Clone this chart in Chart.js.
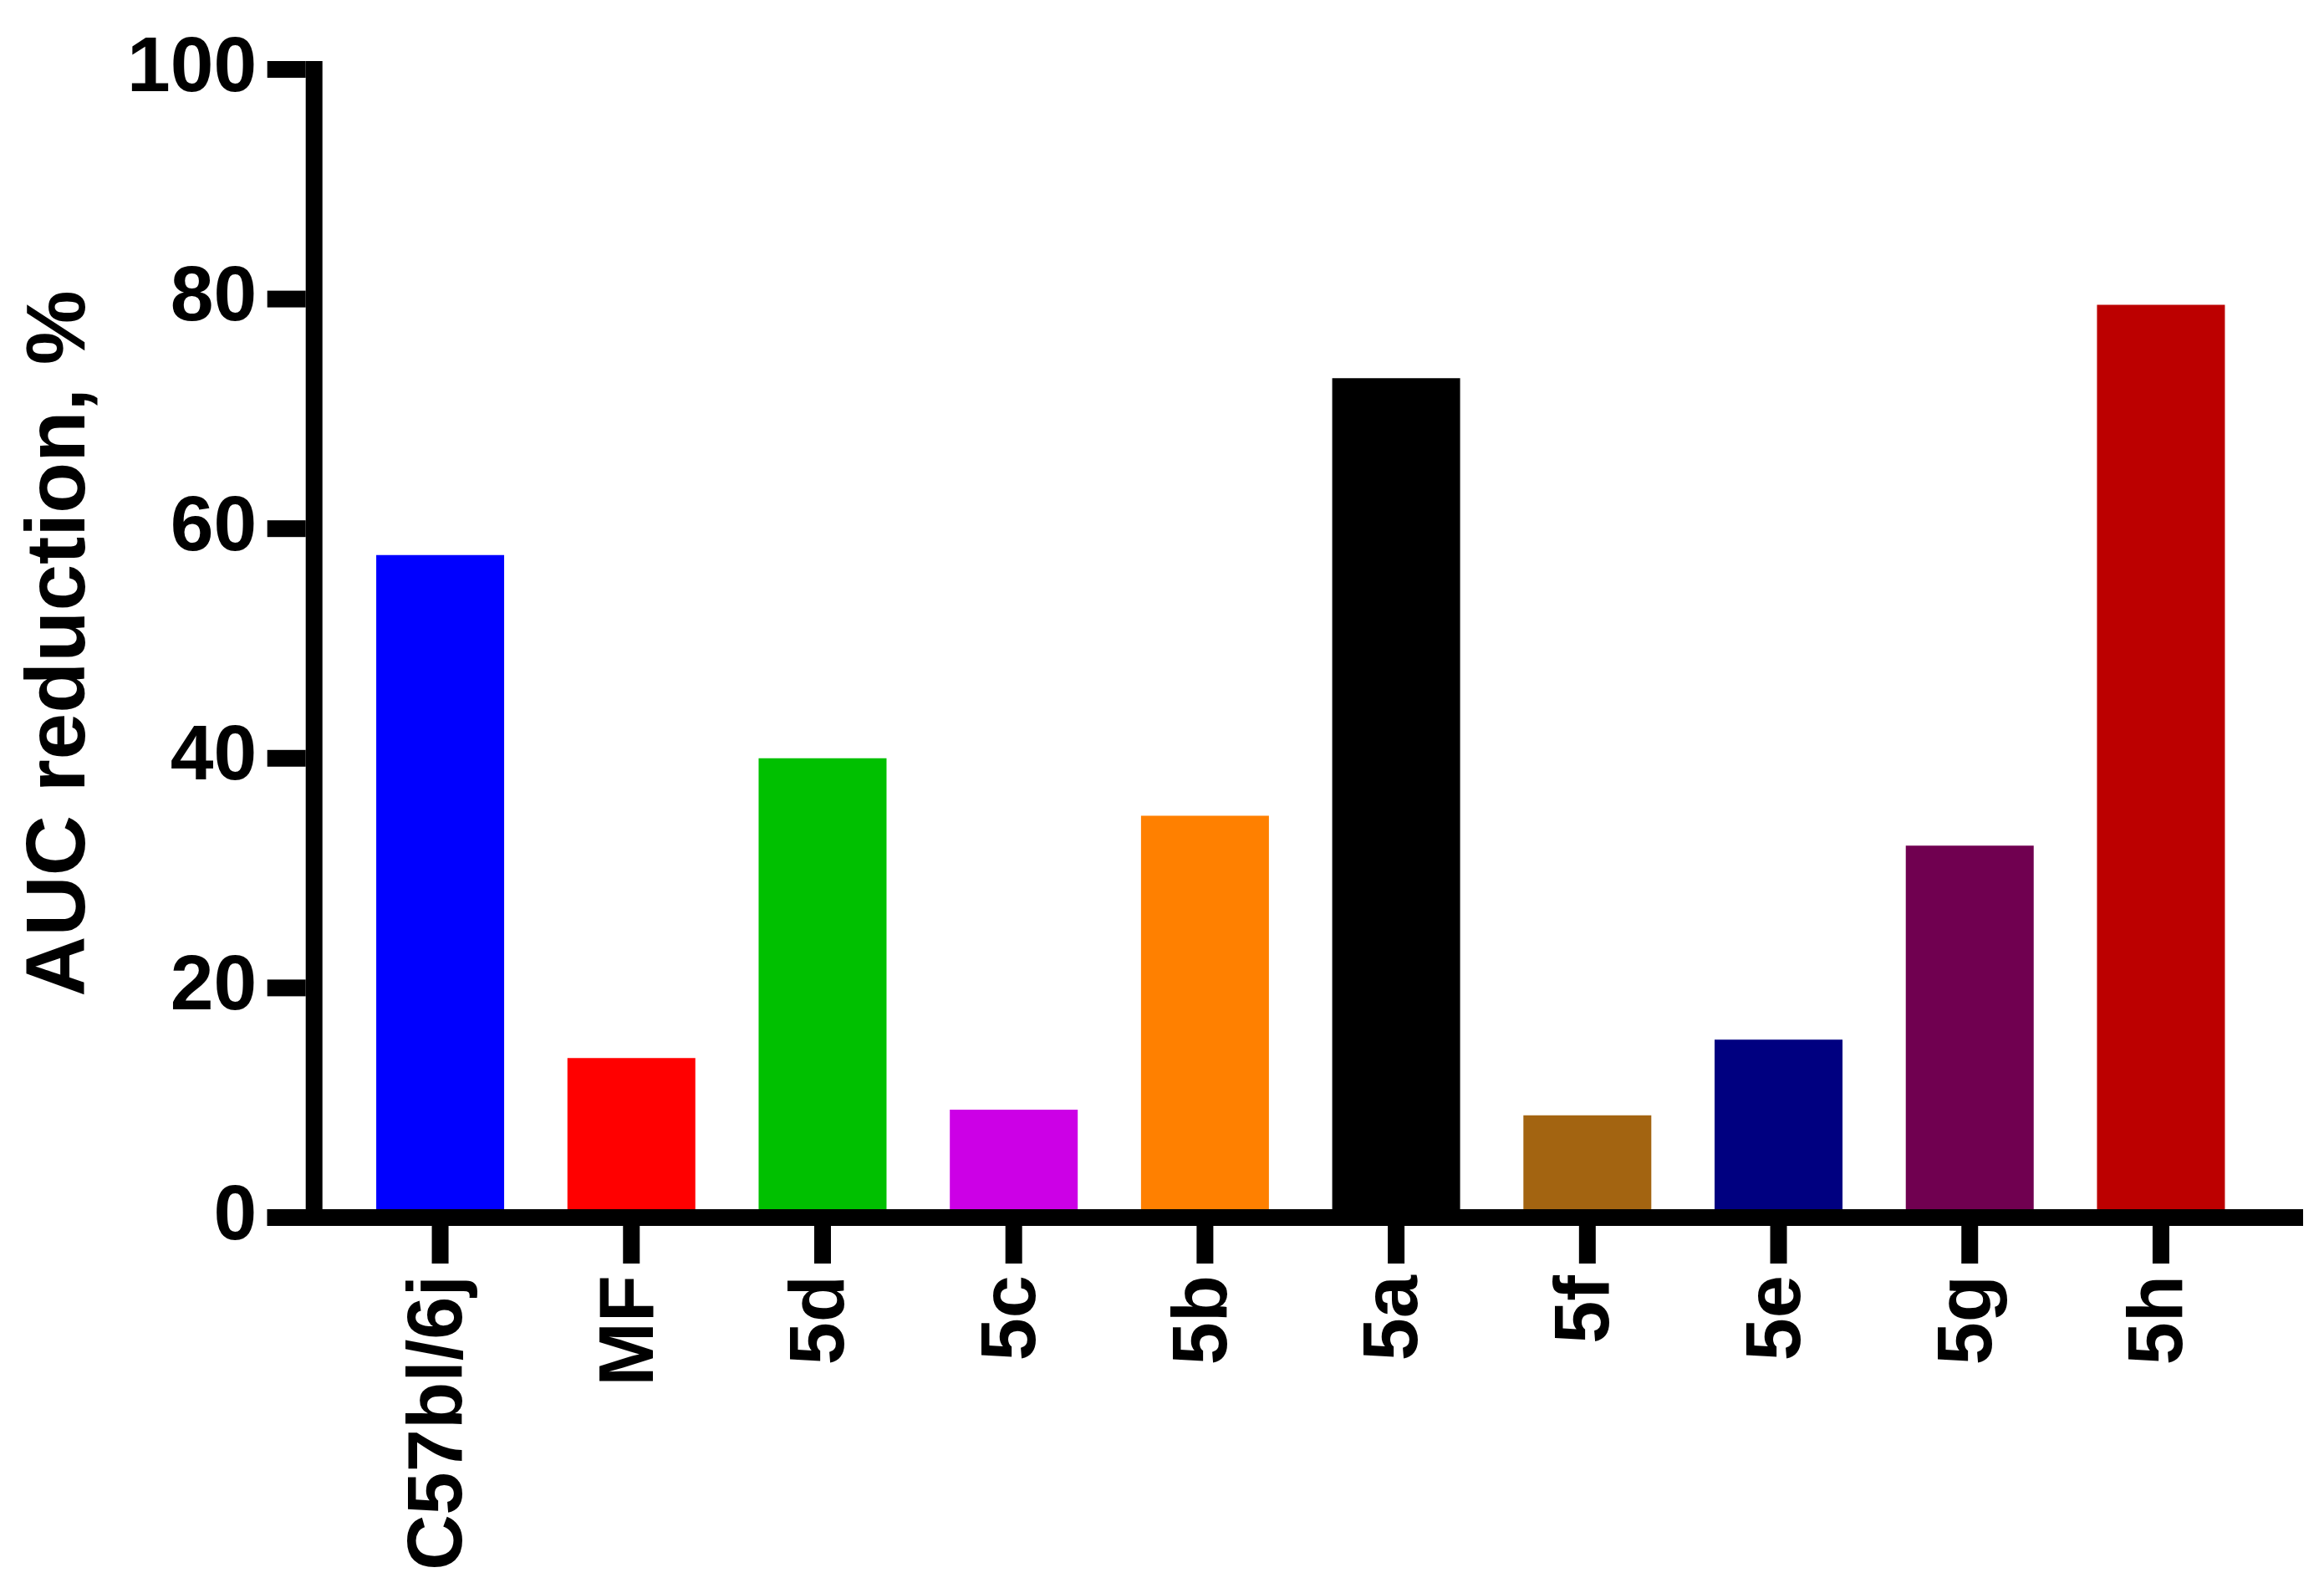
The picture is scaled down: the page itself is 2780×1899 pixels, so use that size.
<!DOCTYPE html>
<html>
<head>
<meta charset="utf-8">
<script src="https://cdn.jsdelivr.net/npm/chart.js@4.4.1/dist/chart.umd.min.js"></script>
<style>
  html, body { margin: 0; padding: 0; background: #fff; }
  #wrap { width: 2780px; height: 1899px; }
</style>
</head>
<body>
<div id="wrap"><canvas id="c" width="2780" height="1899"></canvas></div>
<script>
const categories = ['C57bl/6j', 'MF', '5d', '5c', '5b', '5a', '5f', '5e', '5g', '5h'];
const aucReduction = [57.7, 13.9, 40.0, 9.4, 35.0, 73.1, 8.9, 15.5, 32.4, 79.5];
const barColors = ['#0000FF', '#FF0000', '#00C000', '#CC00E6', '#FF8000', '#000000', '#A36411', '#000080', '#700050', '#BC0000'];
const yTicks = [0, 20, 40, 60, 80, 100];

const FONT = "'Liberation Sans', Arial, sans-serif";
const LW = 20;

// Prism-style axes: thick lines, outward ticks, x axis running past the y axis
const prismAxes = {
  id: 'prismAxes',
  afterDatasetsDraw(chart) {
    const { ctx, chartArea, scales: { x, y } } = chart;
    const zero = y.getPixelForValue(0);
    const top = y.getPixelForValue(100);
    const yAxisLeft = chartArea.left - 46.5;
    const tickLeft = yAxisLeft - 46;
    ctx.save();
    ctx.fillStyle = '#000';
    // y axis
    ctx.fillRect(yAxisLeft, top - LW / 2, LW, zero - top + LW);
    // x axis
    ctx.fillRect(tickLeft, zero - LW / 2, 2755 - tickLeft, LW);
    // y ticks
    yTicks.forEach(v => {
      const py = y.getPixelForValue(v);
      ctx.fillRect(tickLeft, py - LW / 2, yAxisLeft - tickLeft, LW);
    });
    // x ticks
    categories.forEach((c, i) => {
      const px = x.getPixelForValue(i);
      ctx.fillRect(px - LW / 2, zero + LW / 2, LW, 45);
    });
    ctx.restore();
  }
};

new Chart(document.getElementById('c'), {
  type: 'bar',
  data: {
    labels: categories,
    datasets: [{
      data: aucReduction,
      backgroundColor: barColors,
      borderWidth: 0,
      categoryPercentage: 1,
      barPercentage: 0.669
    }]
  },
  options: {
    responsive: false,
    devicePixelRatio: 1,
    animation: false,
    events: [],
    layout: { padding: { top: 83, right: 80.7, bottom: 0, left: 0 } },
    plugins: { legend: { display: false }, tooltip: { enabled: false } },
    scales: {
      x: {
        afterFit: s => { s.height = 443; s.paddingLeft = 0; s.paddingRight = 0; },
        grid: { display: false, drawTicks: false },
        border: { display: false },
        ticks: {
          autoSkip: false, minRotation: 90, maxRotation: 90, padding: 69,
          color: '#000', font: { family: FONT, size: 92, weight: 'bold' }
        }
      },
      y: {
        min: 0, max: 100,
        afterFit: s => { s.width = 412.2; s.paddingTop = 0; s.paddingBottom = 0; },
        afterBuildTicks: s => { s.ticks = yTicks.map(v => ({ value: v })); },
        grid: { display: false, drawTicks: false },
        border: { display: false },
        ticks: {
          padding: 105, color: '#000',
          font: { family: FONT, size: 93, weight: 'bold' }
        },
        title: {
          display: true, text: 'AUC reduction, %', color: '#000',
          padding: { top: 13, bottom: 0 },
          font: { family: FONT, size: 100, weight: 'bold', lineHeight: 1.2 }
        }
      }
    }
  },
  plugins: [prismAxes]
});
</script>
</body>
</html>
